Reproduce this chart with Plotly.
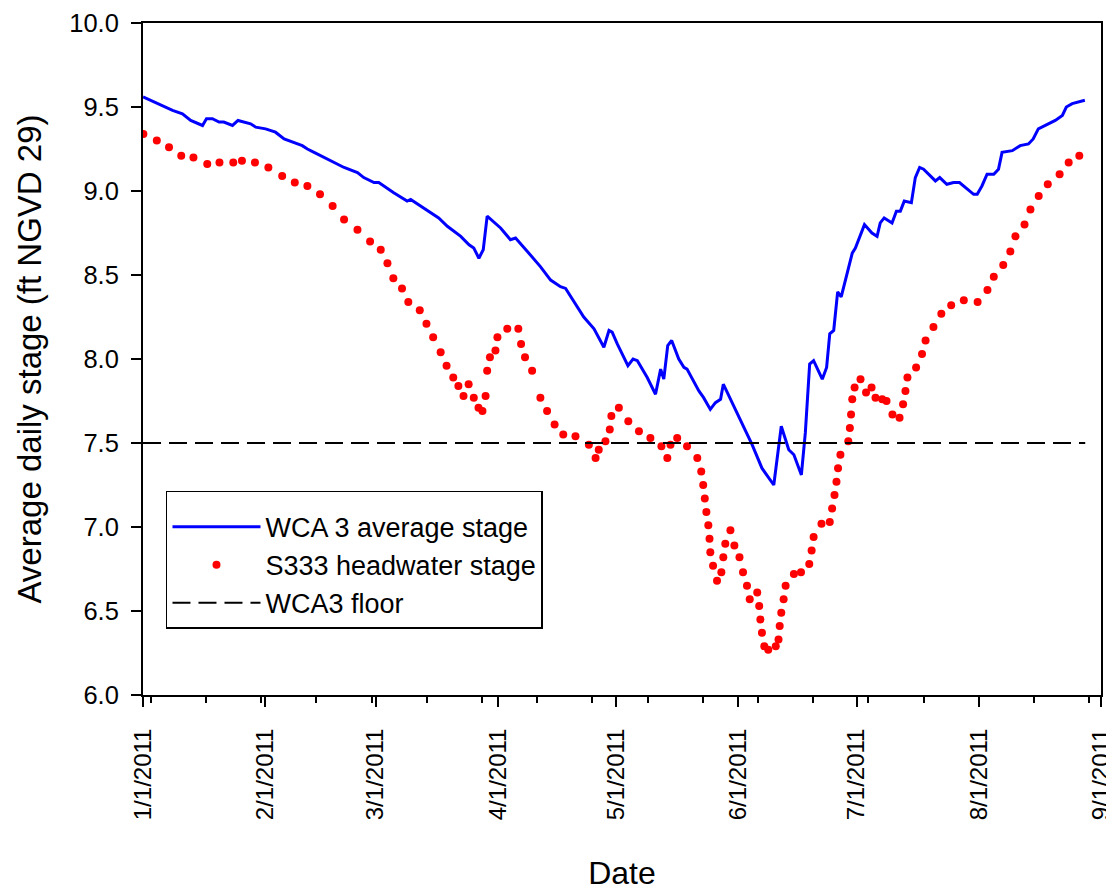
import pandas as pd
import plotly.graph_objects as go

START = pd.Timestamp("2011-01-01")

# WCA 3 average stage (day offset from 1/1/2011, stage ft NGVD 29)
wca3_day = [0, 5.8, 7.5, 10, 12.1, 15.1, 16.1, 17.6, 19.3, 20.5, 22.7, 24.1, 25.6, 27.3, 28.6,
            31.1, 33.6, 35.8, 40.4, 41.7, 43.4, 48.4, 51, 54.4, 56, 58.6, 59.8, 63.6, 67, 67.9,
            70.4, 73.8, 75, 77.2, 80.6, 82.7, 83.9, 85.2, 86.3, 87.3, 90.7, 93.2, 94.5, 97.5,
            100.8, 103.4, 105.9, 107.2, 109.3, 111.8, 114.4, 116.9, 118.2, 119, 120.3, 123,
            124.3, 125.4, 127.9, 130, 131.3, 132.1, 133.1, 134.1, 135.9, 137.2, 138, 141, 142.2,
            143.9, 145.2, 146.5, 147.2, 149, 151.1, 152.4, 154.5, 157, 160, 161.9, 163.8, 165.1,
            167, 168, 169.1, 170.1, 172.3, 173.4, 174.2, 175.2, 176.2, 177.1, 178.6, 179.9,
            180.7, 183, 184.9, 186.2, 187, 188, 190, 191.1, 192.1, 193.1, 194.9, 195.9, 197,
            198, 201, 202.1, 203.9, 205.6, 207.1, 210.7, 211.6, 212.8, 214.1, 215.8, 217, 217.9,
            220.5, 222.5, 224.6, 225.8, 227.1, 228.9, 231.4, 233.2, 234.2, 235.7, 237.7, 238.9]
wca3_stage = [9.56, 9.50, 9.48, 9.46, 9.42, 9.39, 9.43, 9.43, 9.41, 9.41, 9.39, 9.42, 9.41, 9.40, 9.38,
              9.37, 9.35, 9.31, 9.27, 9.25, 9.23, 9.17, 9.14, 9.11, 9.08, 9.05, 9.05, 8.99, 8.94, 8.95,
              8.91, 8.86, 8.84, 8.79, 8.73, 8.68, 8.66, 8.60, 8.65, 8.85, 8.78, 8.71, 8.72, 8.64,
              8.55, 8.47, 8.43, 8.42, 8.34, 8.25, 8.18, 8.07, 8.17, 8.16, 8.09, 7.96,
              8.00, 7.99, 7.89, 7.79, 7.94, 7.88, 8.08, 8.11, 8.00, 7.95, 7.94, 7.81, 7.77,
              7.70, 7.74, 7.76, 7.85, 7.76, 7.66, 7.59, 7.49, 7.35, 7.25, 7.60, 7.46, 7.43,
              7.31, 7.56, 7.97, 7.99, 7.88, 7.95, 8.15, 8.17, 8.40, 8.37, 8.51, 8.63,
              8.66, 8.80, 8.75, 8.73, 8.81, 8.84, 8.81, 8.88, 8.88, 8.94, 8.93, 9.08, 9.14,
              9.13, 9.06, 9.08, 9.04, 9.05, 9.05, 8.98, 8.98, 9.03, 9.10, 9.10, 9.13, 9.23,
              9.24, 9.27, 9.28, 9.31, 9.37, 9.39, 9.42, 9.45, 9.50, 9.52, 9.53, 9.54]

# S333 headwater stage
s333_day = [0.1, 3.5, 6.6, 9.7, 12.8, 16.3, 19.4, 22.9, 25.1, 28.4, 31.8, 35.3, 38.5, 41.7, 44.9,
            48.1, 51.0, 54.4, 57.6, 60.3, 62.0, 63.5, 65.7, 67.3, 70.2, 71.9, 73.6, 75.5, 77.0,
            78.7, 80.0, 81.3, 82.6, 83.9, 85.1, 86.1, 86.9, 87.3, 88.0, 89.4, 89.9, 92.4, 95.2,
            95.9, 96.9, 98.7, 100.8, 102.5, 104.4, 106.6, 109.7, 113.1, 114.8, 115.6, 117.3,
            118.4, 118.8, 120.7, 123.1, 125.8, 128.7, 131.5, 133.0, 133.8, 135.5, 138.0, 140.6,
            141.6, 142.1, 142.5, 142.9, 143.4, 143.7, 143.9, 144.6, 145.6, 146.7, 147.2, 147.7,
            149.0, 150.0, 151.3, 152.2, 153.2, 153.9, 155.8, 156.3, 156.6, 157.0, 157.6, 158.6,
            160.5, 161.2, 161.5, 161.9, 162.5, 163.0, 165.1, 166.9, 169.0, 169.6, 170.1, 172.1,
            174.2, 174.8, 175.4, 175.9, 176.3, 176.9, 178.9, 179.3, 179.6, 179.9, 180.5, 182.0,
            183.4, 184.8, 185.8, 187.5, 188.6, 190.1, 191.9, 192.8, 193.4, 193.9, 196.1, 197.6,
            198.5, 200.5, 202.5, 205.0, 208.2, 211.7, 214.2, 215.8, 218.2, 220.0, 221.3, 223.6,
            225.1, 227.2, 229.5, 232.5, 234.8, 237.5]
s333_stage = [9.34, 9.30, 9.26, 9.21, 9.20, 9.16, 9.17, 9.17, 9.18, 9.17, 9.14, 9.09, 9.05, 9.03, 8.98,
              8.91, 8.83, 8.77, 8.70, 8.65, 8.57, 8.48, 8.42, 8.34, 8.29, 8.21, 8.13, 8.04, 7.96,
              7.89, 7.84, 7.78, 7.85, 7.77, 7.71, 7.69, 7.78, 7.93, 8.01, 8.05, 8.13, 8.18, 8.18,
              8.09, 8.01, 7.93, 7.77, 7.69, 7.61, 7.55, 7.54, 7.49, 7.41, 7.46, 7.51,
              7.58, 7.66, 7.71, 7.63, 7.57, 7.53, 7.48, 7.41, 7.49, 7.53, 7.48, 7.41,
              7.33, 7.25, 7.17, 7.09, 7.01, 6.93, 6.85, 6.77, 6.68, 6.73, 6.82, 6.90,
              6.98, 6.89, 6.82, 6.73, 6.65, 6.57, 6.61, 6.53, 6.45, 6.37, 6.29, 6.27,
              6.29, 6.33, 6.41, 6.49, 6.57, 6.65, 6.72, 6.73, 6.78, 6.86, 6.94, 7.02,
              7.03, 7.11, 7.19, 7.27, 7.35, 7.43, 7.51, 7.59, 7.67, 7.76, 7.83, 7.88,
              7.80, 7.83, 7.77, 7.76, 7.75, 7.67, 7.65, 7.73, 7.81, 7.89, 7.95, 8.03,
              8.11, 8.19, 8.27, 8.32, 8.35, 8.34, 8.41, 8.49, 8.56, 8.64, 8.73, 8.80,
              8.89, 8.97, 9.04, 9.10, 9.17, 9.21]

# WCA3 floor
floor_day = [0, 239]
floor_stage = [7.5, 7.5]

x_range = ["2011-01-01", "2011-09-01"]


def to_dates(days):
    return START + pd.to_timedelta(days, unit="D")


fig = go.Figure()
fig.add_trace(go.Scatter(
    x=to_dates(wca3_day), y=wca3_stage, mode="lines", name="WCA 3 average stage",
    line=dict(color="#0000FF", width=3), legendgroup="a"))
fig.add_trace(go.Scatter(
    x=to_dates(s333_day), y=s333_stage, mode="markers", name="S333 headwater stage",
    marker=dict(color="#FF0000", size=8, line=dict(width=0)), legendgroup="b"))
fig.add_trace(go.Scatter(
    x=to_dates(floor_day), y=floor_stage, mode="lines", name="WCA3 floor",
    line=dict(color="black", width=2, dash="18px,8px"), legendgroup="c"))

FONT = "Liberation Sans, Arial, sans-serif"

fig.update_layout(
    width=1106, height=884,
    margin=dict(l=135, r=13, t=15, b=197),
    paper_bgcolor="white", plot_bgcolor="white",
    font=dict(family=FONT, color="black", size=24),
    showlegend=True,
    legend=dict(
        x=0.024, y=0.304, xanchor="left", yanchor="top",
        bgcolor="white", bordercolor="black", borderwidth=1.5,
        font=dict(family=FONT, size=27, color="black"),
        title=dict(text=" ", font=dict(size=8)),
        itemwidth=88, traceorder="grouped", tracegroupgap=0,
    ),
    xaxis=dict(
        type="date", range=x_range, automargin=False,
        dtick="M1", tick0="2011-01-01", tickformat="%-m/%-d/%Y", tickangle=-90,
        ticks="outside", ticklen=10, tickwidth=1.5, tickcolor="black",
        ticklabelstandoff=12,
        tickfont=dict(family=FONT, size=24, color="black"),
        minor=dict(ticks="outside", ticklen=6, tickwidth=1.5, tickcolor="black",
                   dtick=14 * 86400000, tick0="2011-01-03", showgrid=False),
        showline=True, linecolor="black", linewidth=2, mirror=True,
        showgrid=False, zeroline=False,
        title=dict(text="Date", font=dict(family=FONT, size=32, color="black"), standoff=42),
    ),
    yaxis=dict(
        range=[6, 10], dtick=0.5, tick0=6, tickformat=".1f", automargin=False,
        ticks="outside", ticklen=10, tickwidth=1.5, tickcolor="black",
        ticklabelstandoff=7,
        tickfont=dict(family=FONT, size=25.5, color="black"),
        showline=True, linecolor="black", linewidth=2, mirror=True,
        showgrid=False, zeroline=False,
        title=dict(text="Average daily stage (ft NGVD 29)",
                   font=dict(family=FONT, size=33, color="black"), standoff=18),
    ),
)

fig.write_html("out.html")
